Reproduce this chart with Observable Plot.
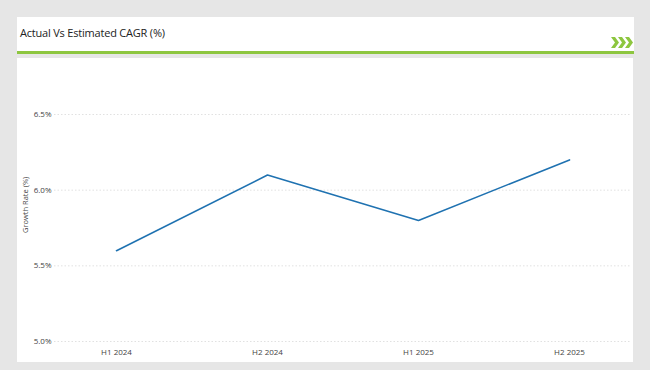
<!DOCTYPE html>
<html>
<head>
<meta charset="utf-8">
<script src="https://cdn.jsdelivr.net/npm/d3@7"></script>
<script src="https://cdn.jsdelivr.net/npm/@observablehq/plot@0.6"></script>
<style>
  html, body { margin: 0; padding: 0; }
  body { width: 650px; height: 370px; background: #e6e6e6; position: relative; overflow: hidden; font-family: "Open Sans", "Noto Sans", sans-serif; }
  #head { position: absolute; left: 17px; top: 17px; width: 617px; height: 35px; background: #fff; }
  #title { position: absolute; left: 3px; top: 8px; font-size: 11px; color: #222; letter-spacing: -0.2px; }
  #bar { position: absolute; left: 17px; top: 51px; width: 617px; height: 3px; background: #8dc63f; }
  #chev { position: absolute; left: 611px; top: 37px; }
  #panel { position: absolute; left: 17px; top: 58px; width: 616px; height: 304px; background: #fff; }
</style>
</head>
<body>
<div id="head"><div id="title">Actual Vs Estimated CAGR (%)</div></div>
<svg id="chev" width="22" height="11" viewBox="0 0 22 11">
  <polygon points="0,0 4,0 8,5.5 4,11 0,11 4,5.5" fill="#8dc63f"/>
  <polygon points="7,0 11,0 15,5.5 11,11 7,11 11,5.5" fill="#8dc63f"/>
  <polygon points="14,0 18,0 22,5.5 18,11 14,11 18,5.5" fill="#8dc63f"/>
</svg>
<div id="bar"></div>
<div id="panel"></div>
<script>
const periods = ["H1 2024", "H2 2024", "H1 2025", "H2 2025"];
const growth = [5.6, 6.1, 5.8, 6.2];
const yTicks = [5.0, 5.5, 6.0, 6.5];
const yLabel = "Growth Rate (%)";

const data = periods.map((p, i) => ({period: p, value: growth[i]}));

const chart = Plot.plot({
  width: 616,
  height: 304,
  marginLeft: 37,
  marginRight: 2,
  marginTop: 56,
  marginBottom: 21,
  style: {fontFamily: "'Open Sans', sans-serif", fontSize: "8px", color: "#444", background: "transparent"},
  x: {type: "point", domain: periods, padding: 0.4, label: null, tickSize: 0, tickPadding: 8},
  y: {domain: [5.0, 6.5], ticks: yTicks, tickFormat: d => d.toFixed(1) + "%", label: null, tickSize: 0, tickPadding: 3},
  marks: [
    Plot.ruleY(yTicks, {stroke: "#d9d9d9", strokeDasharray: "1.5,2", strokeWidth: 0.8}),
    Plot.line(data, {x: "period", y: "value", stroke: "#1f72b1", strokeWidth: 1.6}),
    Plot.text([yLabel], {frameAnchor: "left", text: d => d, rotate: -90, dx: -29, dy: 5, fontSize: 7.5, fill: "#444"})
  ]
});
document.getElementById("panel").appendChild(chart);
</script>
</body>
</html>
